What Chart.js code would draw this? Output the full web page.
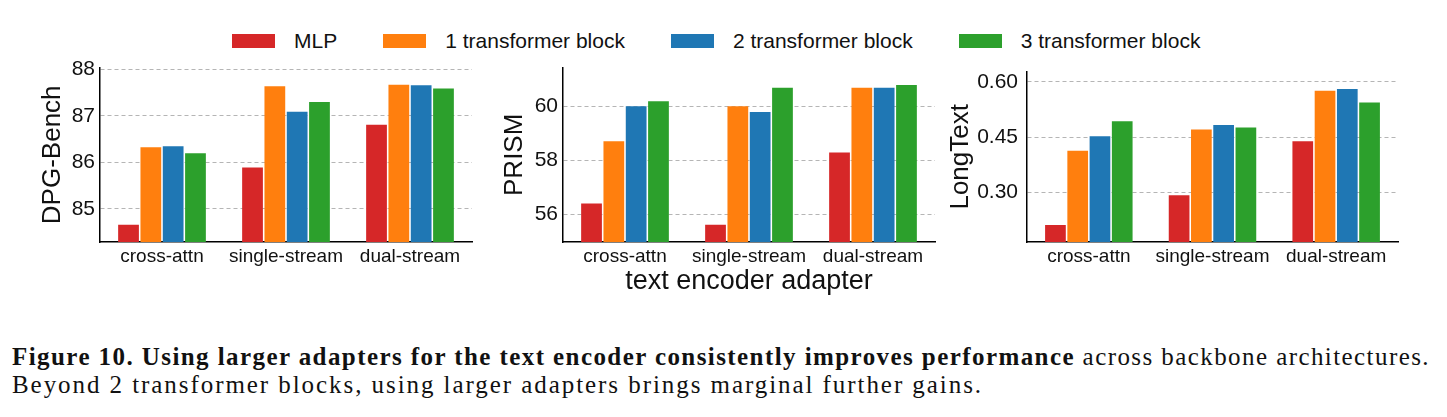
<!DOCTYPE html>
<html>
<head>
<meta charset="utf-8">
<script src="https://cdn.jsdelivr.net/npm/chart.js"></script>
<style>
  body { margin: 0; background: #fff; width: 1447px; height: 417px; position: relative; overflow: hidden; }
  canvas { position: absolute; }
  #legend { position: absolute; left: 232px; top: 29px; display: flex; align-items: center; font-family: "Liberation Sans", Arial, sans-serif; font-size: 21px; color: #111; }
  #legend .item { display: flex; align-items: center; margin-right: 46px; }
  #legend .swatch { width: 43px; height: 14px; margin-right: 19px; }
  #caption { position: absolute; left: 12px; top: 343px; font-family: "Liberation Serif", "Times New Roman", serif; font-size: 25px; line-height: 27.5px; color: #111; white-space: nowrap; }
</style>
</head>
<body>
<div id="legend"></div>
<canvas id="dpg" width="480" height="250" style="left:0px;top:50px"></canvas>
<canvas id="prism" width="465" height="250" style="left:480px;top:50px"></canvas>
<canvas id="longtext" width="470" height="250" style="left:940px;top:50px"></canvas>
<div id="caption"><span id="line1"><b>Figure 10. Using larger adapters for the text encoder consistently improves performance</b> across backbone architectures.</span><br><span id="line2">Beyond 2 transformer blocks, using larger adapters brings marginal further gains.</span></div>
<script>
const adapters = ['cross-attn', 'single-stream', 'dual-stream'];
const seriesNames = ['MLP', '1 transformer block', '2 transformer block', '3 transformer block'];
const seriesColors = ['#d62728', '#ff7f0e', '#1f77b4', '#2ca02c'];

// DPG-Bench
const dpgMLP = [84.66, 85.89, 86.81];
const dpg1 = [86.33, 87.64, 87.67];
const dpg2 = [86.35, 87.09, 87.66];
const dpg3 = [86.20, 87.30, 87.59];
const dpgTicks = [85, 86, 87, 88];

// PRISM
const prismMLP = [56.39, 55.60, 58.29];
const prism1 = [58.70, 60.00, 60.69];
const prism2 = [60.00, 59.79, 60.69];
const prism3 = [60.19, 60.69, 60.79];
const prismTicks = [56, 58, 60];

// LongText
const longMLP = [0.211, 0.292, 0.439];
const long1 = [0.413, 0.471, 0.576];
const long2 = [0.452, 0.483, 0.581];
const long3 = [0.493, 0.476, 0.544];
const longTicks = [0.30, 0.45, 0.60];

const FONT = '"Liberation Sans", Arial, sans-serif';

// html legend
const legendEl = document.getElementById('legend');
seriesNames.forEach((name, i) => {
    const item = document.createElement('div');
    item.className = 'item';
    item.innerHTML = '<div class="swatch" style="background:' + seriesColors[i] + '"></div><span>' + name + '</span>';
    legendEl.appendChild(item);
});

// stretch caption lines to the paper's text width (Palatino is wider than Times)
function fitLine(id, target) {
    const el = document.getElementById(id);
    const w = el.getBoundingClientRect().width;
    const n = el.textContent.length;
    el.style.letterSpacing = ((target - w) / n) + 'px';
}
fitLine('line1', 1418);
fitLine('line2', 971);

function makePanel(id, series, opts) {
    const ctx = document.getElementById(id).getContext('2d');
    return new Chart(ctx, {
        type: 'bar',
        data: {
            labels: adapters,
            datasets: series.map((vals, i) => ({
                label: seriesNames[i],
                data: vals,
                backgroundColor: seriesColors[i],
                borderWidth: 0,
                categoryPercentage: 0.72,
                barPercentage: 0.93
            }))
        },
        options: {
            responsive: false,
            animation: false,
            devicePixelRatio: 1,
            layout: { padding: { left: 0, right: opts.padRight, top: 12, bottom: 0 } },
            plugins: { legend: { display: false }, tooltip: { enabled: false } },
            scales: {
                x: {
                    grid: { display: false, drawTicks: false },
                    border: { display: true, color: '#000', width: 1.5 },
                    ticks: { color: '#111', font: { family: FONT, size: 19 }, padding: 3 },
                    title: opts.xTitle ? {
                        display: true, text: opts.xTitle, color: '#111',
                        font: { family: FONT, size: 27 }, padding: { top: 0, bottom: 2 }
                    } : { display: false },
                    afterFit: s => { s.height = 58; }
                },
                y: {
                    min: opts.min,
                    max: opts.max,
                    afterBuildTicks: s => { s.ticks = opts.ticks.map(v => ({ value: v })); },
                    grid: { display: true, drawTicks: false, color: '#b5b5b5', lineWidth: 1 },
                    border: { display: true, color: '#000', width: 1.5, dash: [4, 3] },
                    ticks: {
                        color: '#111', font: { family: FONT, size: 21 }, padding: opts.tickPad,
                        callback: v => opts.fmt(v)
                    },
                    title: {
                        display: true, text: opts.yTitle, color: '#111',
                        font: { family: FONT, size: 26 }, padding: { top: opts.titlePad, bottom: 0 }
                    },
                    afterFit: s => { s.width = opts.yWidth; }
                }
            }
        }
    });
}

makePanel('dpg', [dpgMLP, dpg1, dpg2, dpg3], {
    min: 84.29, max: 88.04, ticks: dpgTicks, fmt: v => String(v),
    yTitle: 'DPG-Bench', yWidth: 100, titlePad: 37, tickPad: 5, padRight: 8
});
makePanel('prism', [prismMLP, prism1, prism2, prism3], {
    min: 54.96, max: 61.44, ticks: prismTicks, fmt: v => String(v),
    yTitle: 'PRISM', yWidth: 83, titlePad: 19, tickPad: 5, padRight: 10,
    xTitle: 'text encoder adapter'
});
makePanel('longtext', [longMLP, long1, long2, long3], {
    min: 0.165, max: 0.628, ticks: longTicks, fmt: v => v.toFixed(2),
    yTitle: 'LongText', yWidth: 87, titlePad: 5, tickPad: 9, padRight: 12
});
</script>
</body>
</html>
